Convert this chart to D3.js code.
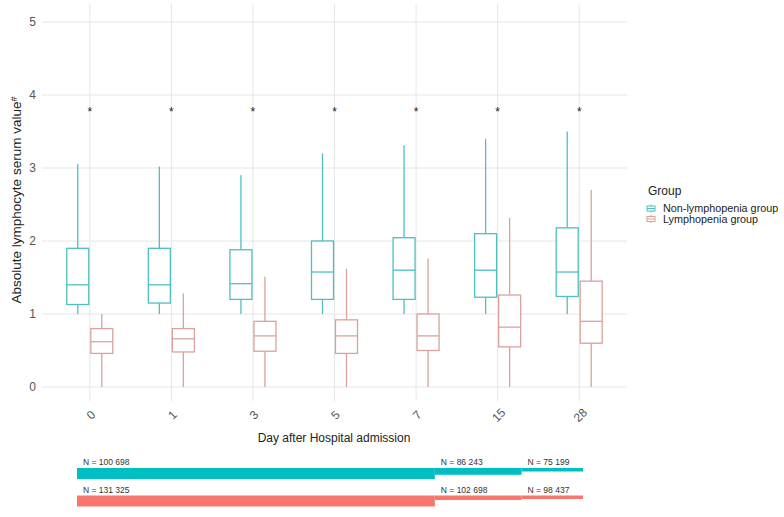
<!DOCTYPE html>
<html>
<head>
<meta charset="utf-8">
<script src="https://cdn.jsdelivr.net/npm/d3@7"></script>
<style>
  body { margin: 0; background: #fff; font-family: "Liberation Sans", Arial, sans-serif; }
</style>
</head>
<body>
<div id="chart-area"></div>
<script>
// days on the x axis
var days = ["0", "1", "3", "5", "7", "15", "28"];
var groups = ["Non-lymphopenia group", "Lymphopenia group"];

// box stats: [whisker low, q1, median, q3, whisker high]
var nonLymph = [
    [1.0, 1.13, 1.40, 1.90, 3.05],
    [1.0, 1.15, 1.40, 1.90, 3.02],
    [1.0, 1.20, 1.415, 1.88, 2.90],
    [1.0, 1.20, 1.575, 2.00, 3.20],
    [1.0, 1.20, 1.60, 2.045, 3.31],
    [1.0, 1.23, 1.60, 2.10, 3.40],
    [1.0, 1.24, 1.575, 2.18, 3.50]
];
var lymph = [
    [0, 0.46, 0.62, 0.80, 1.00],
    [0, 0.48, 0.66, 0.80, 1.28],
    [0, 0.49, 0.70, 0.90, 1.51],
    [0, 0.46, 0.70, 0.92, 1.62],
    [0, 0.50, 0.70, 1.00, 1.76],
    [0, 0.55, 0.82, 1.26, 2.32],
    [0, 0.60, 0.90, 1.45, 2.70]
];
var starY = 3.83;  // significance marks

// follow-up counts under the chart
var followDays = [0, 19.8, 24.6, 28];  // segment breaks
var nNonLymph = [100698, 86243, 75199];
var nLymph = [131325, 102698, 98437];

var colors = ["#00BFC4", "#F8766D"];
var boxStroke = ["#4fbfc0", "#d9a29c"];

var W = 784, H = 517;
var svg = d3.select("#chart-area").append("svg")
    .attr("width", W)
    .attr("height", H);

var x = d3.scaleBand().domain(days).range([49, 620]).padding(0);
var y = d3.scaleLinear().domain([0, 5]).range([387, 22]);
var off = 12, bw = 22;

function cx(d) { return x(d) + x.bandwidth() / 2; }

// grid
var grid = svg.append("g");
grid.selectAll(".hg").data(y.ticks(5)).enter().append("line")
    .attr("x1", 42).attr("x2", 627)
    .attr("y1", function (d) { return y(d); })
    .attr("y2", function (d) { return y(d); })
    .attr("stroke", "#e6e6e6").attr("stroke-width", 1);
grid.selectAll(".vg").data(days).enter().append("line")
    .attr("x1", cx).attr("x2", cx)
    .attr("y1", 4).attr("y2", 401)
    .attr("stroke", "#e6e6e6").attr("stroke-width", 1);

// y tick labels
svg.selectAll(".yt").data(y.ticks(5)).enter().append("text")
    .attr("x", 36).attr("y", function (d) { return y(d); })
    .attr("dy", "0.35em").attr("text-anchor", "end")
    .attr("font-size", 12).attr("fill", "#555")
    .text(function (d) { return d; });

// x tick labels, rotated
svg.selectAll(".xt").data(days).enter().append("text")
    .attr("transform", function (d) { return "translate(" + (cx(d) + 1) + ",415) rotate(-45)"; })
    .attr("text-anchor", "middle").attr("dy", "0.35em")
    .attr("font-size", 12).attr("fill", "#555")
    .text(function (d) { return d; });

// axis titles
svg.append("text")
    .attr("x", 334).attr("y", 442)
    .attr("text-anchor", "middle").attr("font-size", 12).attr("fill", "#222")
    .text("Day after Hospital admission");

var yt = svg.append("text")
    .attr("transform", "translate(21,200) rotate(-90)")
    .attr("text-anchor", "middle").attr("font-size", 13.5).attr("fill", "#222");
yt.append("tspan").text("Absolute lymphocyte serum value");
yt.append("tspan").attr("font-size", 9).attr("dy", "-0.5em").text("#");

// boxes
function drawBoxes(stats, gi) {
    var g = svg.append("g");
    var dx = gi === 0 ? -off : off;
    var b = g.selectAll("g").data(stats).enter().append("g")
        .attr("transform", function (d, i) { return "translate(" + (cx(days[i]) + dx) + ",0)"; });
    b.append("line")
        .attr("x1", 0).attr("x2", 0)
        .attr("y1", function (d) { return y(d[3]); })
        .attr("y2", function (d) { return y(d[4]); });
    b.append("line")
        .attr("x1", 0).attr("x2", 0)
        .attr("y1", function (d) { return y(d[0]); })
        .attr("y2", function (d) { return y(d[1]); });
    b.append("rect")
        .attr("x", -bw / 2).attr("width", bw)
        .attr("y", function (d) { return y(d[3]); })
        .attr("height", function (d) { return y(d[1]) - y(d[3]); })
        .attr("fill", "#fff");
    b.append("line")
        .attr("x1", -bw / 2).attr("x2", bw / 2)
        .attr("y1", function (d) { return y(d[2]); })
        .attr("y2", function (d) { return y(d[2]); });
    b.selectAll("line, rect")
        .attr("stroke", boxStroke[gi]).attr("stroke-width", 1.3);
}
drawBoxes(nonLymph, 0);
drawBoxes(lymph, 1);

// stars
svg.selectAll(".star").data(days).enter().append("text")
    .attr("x", cx).attr("y", y(starY))
    .attr("dy", "0.7em").attr("text-anchor", "middle")
    .attr("font-size", 12).attr("fill", "#222")
    .text("*");

// legend
var lg = svg.append("g").attr("transform", "translate(648,0)");
lg.append("text").attr("x", 0).attr("y", 195)
    .attr("font-size", 12).attr("fill", "#222").text("Group");
groups.forEach(function (name, i) {
    var yy = 208.5 + i * 10.5;
    var k = lg.append("g").attr("transform", "translate(3," + yy + ")")
        .attr("stroke", boxStroke[i]).attr("stroke-width", 1).attr("fill", "none");
    k.append("line").attr("x1", 0).attr("x2", 0).attr("y1", -4).attr("y2", 4);
    k.append("rect").attr("x", -4).attr("y", -2.5).attr("width", 8).attr("height", 5).attr("fill", "#fff");
    k.append("line").attr("x1", -4).attr("x2", 4).attr("y1", 0).attr("y2", 0);
    lg.append("text").attr("x", 15).attr("y", yy).attr("dy", "0.35em")
        .attr("font-size", 10.8).attr("fill", "#222").text(name);
});

// follow-up bars
var tx = d3.scaleLinear().domain([0, 28]).range([77, 583]);
var fmt = function (n) { return d3.format(",")(n).replace(/,/g, " "); };

function drawFollow(ns, gi, top) {
    var th = d3.scaleLinear().domain([d3.min(ns), d3.max(ns)]).range([3.5, 11]);
    var g = svg.append("g");
    g.selectAll("rect").data(ns).enter().append("rect")
        .attr("x", function (d, i) { return tx(followDays[i]); })
        .attr("width", function (d, i) { return tx(followDays[i + 1]) - tx(followDays[i]); })
        .attr("y", top)
        .attr("height", function (d) { return th(d); })
        .attr("fill", colors[gi]);
    g.selectAll("text").data(ns).enter().append("text")
        .attr("x", function (d, i) { return tx(followDays[i]) + 6; })
        .attr("y", top - 3)
        .attr("font-size", 8.5).attr("fill", "#333")
        .text(function (d) { return "N = " + fmt(d); });
}
drawFollow(nNonLymph, 0, 468);
drawFollow(nLymph, 1, 495.5);
</script>
</body>
</html>
